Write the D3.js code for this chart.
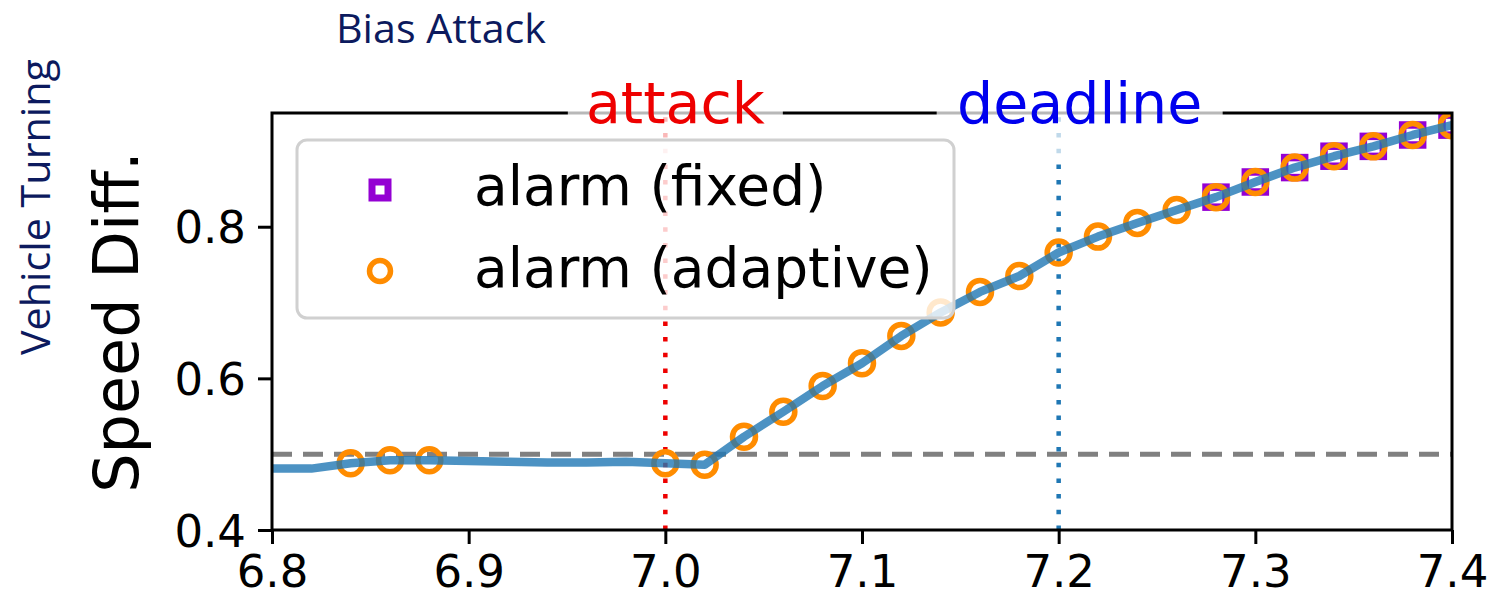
<!DOCTYPE html>
<html>
<head>
<meta charset="utf-8">
<script src="https://cdn.jsdelivr.net/npm/d3@7"></script>
<style>
  html, body { margin: 0; padding: 0; background: #ffffff; }
  svg { display: block; }
</style>
</head>
<body>
<div id="chart"></div>
<script>
// ---------------- data ----------------
const timeValues = [6.80, 6.82, 6.84, 6.86, 6.88, 6.90, 6.92, 6.94, 6.96, 6.98,
                    7.00, 7.02, 7.04, 7.06, 7.08, 7.10, 7.12, 7.14, 7.16, 7.18,
                    7.20, 7.22, 7.24, 7.26, 7.28, 7.30, 7.32, 7.34, 7.36, 7.38, 7.40];
const speedDiff  = [0.481, 0.481, 0.488, 0.492, 0.492, 0.491, 0.490, 0.489, 0.489, 0.490,
                    0.488, 0.486, 0.523, 0.556, 0.590, 0.620, 0.656, 0.687, 0.714, 0.735,
                    0.766, 0.787, 0.805, 0.822, 0.839, 0.859, 0.878, 0.893, 0.906, 0.921, 0.934];
const adaptiveAlarmTimes = [6.84, 6.86, 6.88, 7.00, 7.02, 7.04, 7.06, 7.08, 7.10, 7.12, 7.14,
                            7.16, 7.18, 7.20, 7.22, 7.24, 7.26, 7.28, 7.30, 7.32, 7.34, 7.36, 7.38, 7.40];
const fixedAlarmTimes = [7.28, 7.30, 7.32, 7.34, 7.36, 7.38, 7.40];
const threshold = 0.5;
const attackTime = 7.0;
const deadlineTime = 7.2;
const xTicks = [6.8, 6.9, 7.0, 7.1, 7.2, 7.3, 7.4];
const yTicks = [0.4, 0.6, 0.8];
const xDomain = [6.8, 7.4];
const yDomain = [0.4, 0.95];
const legendLabels = ["alarm (fixed)", "alarm (adaptive)"];
const titleText = "Bias Attack";
const sideText = "Vehicle Turning";
const yLabelText = "Speed Diff.";

// ---------------- layout ----------------
const W = 1491, H = 596;
const plot = { left: 272, right: 1452, top: 113, bottom: 530 };
const mplFont = "'DejaVu Sans', sans-serif";
const pptFont = "'Open Sans', 'Noto Sans', sans-serif";

const svg = d3.select("#chart").append("svg")
  .attr("width", W).attr("height", H)
  .attr("viewBox", `0 0 ${W} ${H}`);

const x = d3.scaleLinear().domain(xDomain).range([plot.left, plot.right]);
const y = d3.scaleLinear().domain(yDomain).range([plot.bottom, plot.top]);

const valueAt = t => speedDiff[timeValues.findIndex(v => Math.abs(v - t) < 1e-9)];

svg.append("defs").append("clipPath").attr("id", "plotClip")
  .append("rect")
  .attr("x", plot.left).attr("y", plot.top)
  .attr("width", plot.right - plot.left).attr("height", plot.bottom - plot.top);

const g = svg.append("g").attr("clip-path", "url(#plotClip)");

// threshold dashed line
g.append("line")
  .attr("x1", x(xDomain[0])).attr("x2", x(xDomain[1]))
  .attr("y1", y(threshold)).attr("y2", y(threshold))
  .attr("stroke", "#808080").attr("stroke-width", 5)
  .attr("stroke-dasharray", "20,11");

// attack / deadline dotted lines
g.append("line")
  .attr("x1", x(attackTime)).attr("x2", x(attackTime))
  .attr("y1", y(yDomain[0])).attr("y2", y(yDomain[1]))
  .attr("stroke", "#ee0000").attr("stroke-width", 4.5)
  .attr("stroke-dasharray", "4.5,11.2");
g.append("line")
  .attr("x1", x(deadlineTime)).attr("x2", x(deadlineTime))
  .attr("y1", y(yDomain[0])).attr("y2", y(yDomain[1]))
  .attr("stroke", "#1f77b4").attr("stroke-width", 4.5)
  .attr("stroke-dasharray", "4.5,11.2");

// fixed alarm squares
const sq = 20;
g.selectAll("rect.fixed").data(fixedAlarmTimes).enter().append("rect")
  .attr("class", "fixed")
  .attr("x", d => x(d) - sq / 2).attr("y", d => y(valueAt(d)) - sq / 2)
  .attr("width", sq).attr("height", sq)
  .attr("fill", "none").attr("stroke", "#9400d3").attr("stroke-width", 7.5);

// adaptive alarm circles
g.selectAll("circle.adaptive").data(adaptiveAlarmTimes).enter().append("circle")
  .attr("class", "adaptive")
  .attr("cx", d => x(d)).attr("cy", d => y(valueAt(d)))
  .attr("r", 11.5)
  .attr("fill", "none").attr("stroke", "#ff8c00").attr("stroke-width", 5.5);

// speed difference line
const line = d3.line().x((d, i) => x(timeValues[i])).y(d => y(d));
g.append("path").datum(speedDiff)
  .attr("d", line)
  .attr("fill", "none").attr("stroke", "#1f77b4").attr("stroke-opacity", 0.8)
  .attr("stroke-width", 8.5).attr("stroke-linejoin", "round").attr("stroke-linecap", "butt");

// ---------------- axes ----------------
const xAxis = d3.axisBottom(x).tickValues(xTicks).tickFormat(d3.format(".1f"))
  .tickSizeInner(14).tickSizeOuter(0).tickPadding(9);
const xg = svg.append("g").attr("transform", `translate(0,${plot.bottom})`).call(xAxis);
xg.select(".domain").remove();
xg.selectAll(".tick line").attr("stroke", "#000").attr("stroke-width", 3);
xg.selectAll(".tick text").attr("font-family", mplFont).attr("font-size", 45)
  .attr("fill", "#000").attr("dy", "0.76em");

const yAxis = d3.axisLeft(y).tickValues(yTicks).tickFormat(d3.format(".1f"))
  .tickSizeInner(14).tickSizeOuter(0).tickPadding(12);
const yg = svg.append("g").attr("transform", `translate(${plot.left},0)`).call(yAxis);
yg.select(".domain").remove();
yg.selectAll(".tick line").attr("stroke", "#000").attr("stroke-width", 3);
yg.selectAll(".tick text").attr("font-family", mplFont).attr("font-size", 45)
  .attr("fill", "#000").attr("dy", "0.36em");

// frame
svg.append("rect")
  .attr("x", plot.left).attr("y", plot.top)
  .attr("width", plot.right - plot.left).attr("height", plot.bottom - plot.top)
  .attr("fill", "none").attr("stroke", "#000").attr("stroke-width", 3);

// y label
svg.append("text")
  .attr("transform", `translate(138,322) rotate(-90)`)
  .attr("text-anchor", "middle")
  .attr("font-family", mplFont).attr("font-size", 62).attr("fill", "#000")
  .text(yLabelText);

// ---------------- annotations ----------------
function annotate(t, label, color, dx, boxW) {
  const cx = x(t) + dx;
  svg.append("rect")
    .attr("x", cx - boxW / 2).attr("y", 72).attr("width", boxW).attr("height", 84)
    .attr("fill", "#ffffff").attr("fill-opacity", 0.72);
  svg.append("text")
    .attr("x", cx).attr("y", 123)
    .attr("text-anchor", "middle")
    .attr("font-family", mplFont).attr("font-size", 57).attr("fill", color)
    .text(label);
}
annotate(attackTime, "attack", "#ee0000", 10, 215);
annotate(deadlineTime, "deadline", "#0000ee", 21, 286);

// ---------------- legend ----------------
const lg = svg.append("g");
lg.append("rect")
  .attr("x", 297).attr("y", 140).attr("width", 657).attr("height", 178).attr("rx", 10)
  .attr("fill", "#ffffff").attr("fill-opacity", 0.8)
  .attr("stroke", "#d0d0d0").attr("stroke-width", 3);
lg.append("rect")
  .attr("x", 380 - sq / 2 + 2).attr("y", 190 - sq / 2 + 2).attr("width", sq - 4).attr("height", sq - 4)
  .attr("fill", "none").attr("stroke", "#9400d3").attr("stroke-width", 7);
lg.append("circle")
  .attr("cx", 380).attr("cy", 271).attr("r", 10.5)
  .attr("fill", "none").attr("stroke", "#ff8c00").attr("stroke-width", 5.5);
lg.selectAll("text.leg").data(legendLabels).enter().append("text")
  .attr("class", "leg")
  .attr("x", 474).attr("y", (d, i) => 205 + i * 82)
  .attr("font-family", mplFont).attr("font-size", 55).attr("fill", "#000")
  .text(d => d);

// ---------------- slide texts ----------------
svg.append("text")
  .attr("x", 336).attr("y", 43)
  .attr("font-family", pptFont).attr("font-size", 40).attr("fill", "#0c1a5e")
  .attr("textLength", 210).attr("lengthAdjust", "spacingAndGlyphs")
  .text(titleText);
svg.append("text")
  .attr("transform", `translate(50,207) rotate(-90)`)
  .attr("text-anchor", "middle")
  .attr("font-family", pptFont).attr("font-size", 40).attr("fill", "#0c1a5e")
  .attr("textLength", 296).attr("lengthAdjust", "spacingAndGlyphs")
  .text(sideText);
</script>
</body>
</html>
